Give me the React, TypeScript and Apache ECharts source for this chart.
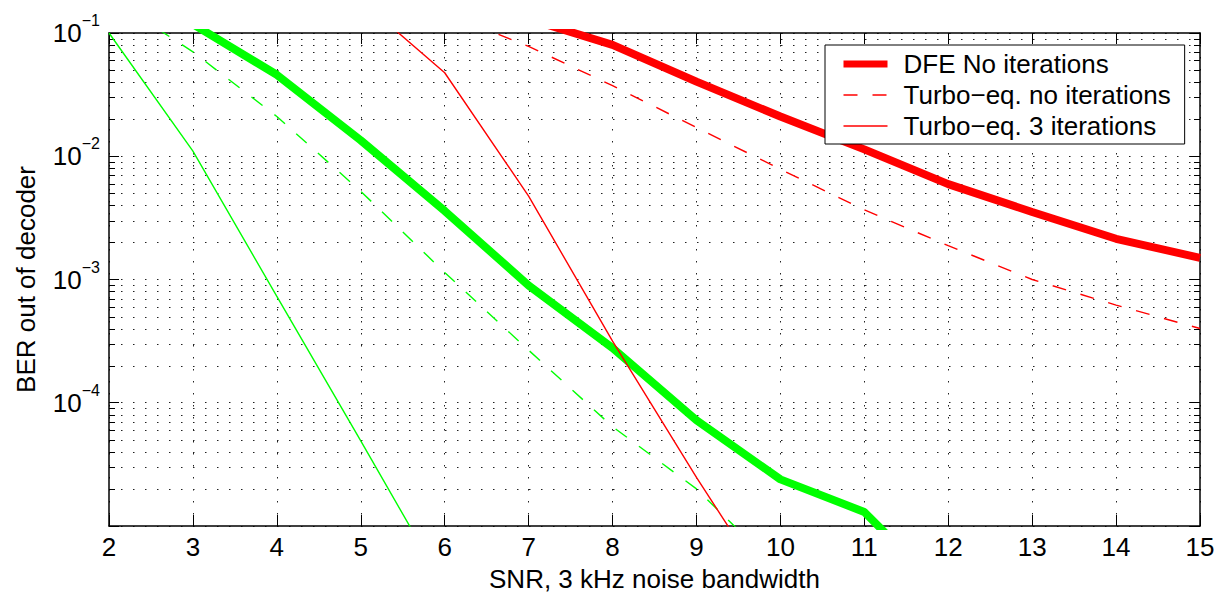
import React, { useEffect, useRef } from "react";
import * as echarts from "echarts";

// ---- data ----
const greenThinSnr = [2, 3, 4, 5, 6];
const greenThinBer = [0.1, 0.011, 7.3e-4, 4.9e-5, 3.2e-6];

const greenDashedSnr = [2, 3, 4, 5, 6, 7, 8, 9, 10];
const greenDashedBer = [0.195, 0.0703, 0.021, 5.2e-3, 1.14e-3, 2.67e-4, 6.4e-5, 2.0e-5, 4.3e-6];

const greenThickSnr = [3, 4, 5, 6, 7, 8, 9, 10, 11, 12];
const greenThickBer = [0.118, 0.0458, 0.01346, 3.6e-3, 8.95e-4, 2.78e-4, 7.2e-5, 2.39e-5, 1.3e-5, 2.7e-6];

const redThinSnr = [5, 6, 7, 8, 9, 10];
const redThinBer = [0.184, 0.0476, 4.75e-3, 3.16e-4, 2.48e-5, 2.2e-6];

const redDashedSnr = [6, 7, 8, 9, 10, 11, 12, 13, 14, 15];
const redDashedBer = [0.146, 0.0778, 0.0374, 0.0171, 7.85e-3, 3.67e-3, 1.88e-3, 1.0e-3, 6.2e-4, 4.0e-4];

const redThickSnr = [7, 8, 9, 10, 11, 12, 13, 14, 15];
const redThickBer = [0.13, 0.08, 0.0403, 0.021, 0.01137, 5.94e-3, 3.53e-3, 2.14e-3, 1.5e-3];

const legendNames = ["DFE No iterations", "Turbo\u2212eq. no iterations", "Turbo\u2212eq. 3 iterations"];

const xMin = 2;
const xMax = 15;
const yMin = 1e-5;
const yMax = 0.1;
const decadeExps = [-5, -4, -3, -2];
const mantissas = [2, 3, 4, 5, 6, 7, 8, 9];

const FONT = "'Liberation Sans', Arial, Helvetica, sans-serif";
const FS = 26;
const THICK = 8;
const THIN = 1.4;

function pairs(xs: number[], ys: number[]) {
  return xs.map((x, i) => [x, ys[i]]);
}

export default function App() {
  const ref = useRef<HTMLDivElement>(null);
  useEffect(() => {
    if (!ref.current) return;
    const chart = echarts.init(ref.current, undefined, { renderer: "svg" });

    const minorVals: number[][] = [];
    decadeExps.forEach((e) => mantissas.forEach((m) => minorVals.push([xMin, Number((m * Math.pow(10, e)).toPrecision(3))])));

    const dotted = { color: "#222", width: 1, type: [1.5, 10.5] as any };
    const green = "#00ff00";
    const red = "#ff0000";

    const option: any = {
      animation: false,
      backgroundColor: "#fff",
      textStyle: { fontFamily: FONT },
      grid: { left: 109, right: 18, top: 33, bottom: 68, containLabel: false },
      legend: {
        data: [
          { name: legendNames[0], lineStyle: { width: 7, color: red } },
          { name: legendNames[1], lineStyle: { width: THIN, color: red, type: [14, 15] } },
          { name: legendNames[2], lineStyle: { width: THIN, color: red } },
        ],
        orient: "vertical",
        left: 825,
        top: 45,
        itemWidth: 44,
        itemHeight: 26,
        itemGap: 5,
        padding: [6, 14, 5, 15],
        borderColor: "#000",
        borderWidth: 1,
        backgroundColor: "#fff",
        itemStyle: { opacity: 0 },
        textStyle: { fontSize: FS, color: "#000", fontFamily: FONT, padding: [0, 0, 0, 11] },
      },
      xAxis: [
        {
          type: "value",
          min: xMin,
          max: xMax,
          interval: 1,
          position: "bottom",
          name: "SNR, 3 kHz noise bandwidth",
          nameLocation: "middle",
          nameGap: 40,
          nameTextStyle: { fontSize: FS, color: "#000", fontFamily: FONT },
          axisLine: { show: true, onZero: false, lineStyle: { color: "#000", width: 1.5 } },
          axisTick: { show: true, inside: true, length: 11, lineStyle: { color: "#000", width: 1 } },
          axisLabel: { fontSize: FS, color: "#000", margin: 8, fontFamily: FONT },
          splitLine: { show: true, lineStyle: dotted },
        },
        {
          type: "value",
          min: xMin,
          max: xMax,
          interval: 1,
          position: "top",
          axisLine: { show: true, onZero: false, lineStyle: { color: "#000", width: 1.5 } },
          axisTick: { show: true, inside: true, length: 11, lineStyle: { color: "#000", width: 1 } },
          axisLabel: { show: false },
          splitLine: { show: false },
        },
      ],
      yAxis: [
        {
          type: "log",
          logBase: 10,
          min: yMin,
          max: yMax,
          position: "left",
          name: "BER out of decoder",
          nameLocation: "middle",
          nameGap: 70,
          nameTextStyle: { fontSize: FS, color: "#000", fontFamily: FONT },
          axisLine: { show: true, onZero: false, lineStyle: { color: "#000", width: 1.5 } },
          axisTick: { show: true, inside: true, length: 10, lineStyle: { color: "#000", width: 1 } },
          axisLabel: {
            margin: 9,
            color: "#000",
            formatter: (v: number) => {
              const e = Math.round(Math.log10(v));
              if (e === -5) return "";
              const s = e < 0 ? "\u2212" + Math.abs(e) : String(e);
              return "{b|10}{s|" + s + "}";
            },
            rich: {
              b: { fontSize: FS, color: "#000", fontFamily: FONT },
              s: { fontSize: 16, color: "#000", fontFamily: FONT, padding: [0, 0, 25, 0] },
            },
          },
          splitLine: { show: true, lineStyle: dotted },
        },
        {
          type: "log",
          logBase: 10,
          min: yMin,
          max: yMax,
          position: "right",
          axisLine: { show: true, onZero: false, lineStyle: { color: "#000", width: 1.5 } },
          axisTick: { show: true, inside: true, length: 10, lineStyle: { color: "#000", width: 1 } },
          axisLabel: { show: false },
          splitLine: { show: false },
        },
      ],
      series: [
        {
          name: "minor",
          type: "custom",
          silent: true,
          z: 1,
          data: minorVals,
          encode: { x: 0, y: 1 },
          renderItem: (params: any, api: any) => {
            const v = api.value(1);
            const pt = api.coord([xMin, v]);
            const cs = params.coordSys;
            const y = Math.round(pt[1]) + 0.5;
            const x0 = cs.x;
            const x1 = cs.x + cs.width;
            return {
              type: "group",
              children: [
                { type: "line", shape: { x1: x0, y1: y, x2: x1, y2: y }, style: { stroke: "#222", lineWidth: 1, lineDash: [1.5, 10.5] } },
                { type: "line", shape: { x1: x0, y1: y, x2: x0 + 6, y2: y }, style: { stroke: "#000", lineWidth: 1 } },
                { type: "line", shape: { x1: x1 - 6, y1: y, x2: x1, y2: y }, style: { stroke: "#000", lineWidth: 1 } },
              ],
            };
          },
        },
        {
          name: "green thin",
          type: "line",
          data: pairs(greenThinSnr, greenThinBer),
          symbol: "none",
          lineStyle: { color: green, width: THIN },
          itemStyle: { color: green },
        },
        {
          name: "green dashed",
          type: "line",
          data: pairs(greenDashedSnr, greenDashedBer),
          symbol: "none",
          lineStyle: { color: green, width: THIN, type: [14, 15] },
          itemStyle: { color: green },
        },
        {
          name: "green thick",
          type: "line",
          data: pairs(greenThickSnr, greenThickBer),
          symbol: "none",
          lineStyle: { color: green, width: THICK },
          itemStyle: { color: green },
        },
        {
          name: legendNames[0],
          type: "line",
          data: pairs(redThickSnr, redThickBer),
          symbol: "none",
          lineStyle: { color: red, width: THICK },
          itemStyle: { color: red },
        },
        {
          name: legendNames[1],
          type: "line",
          data: pairs(redDashedSnr, redDashedBer),
          symbol: "none",
          lineStyle: { color: red, width: THIN, type: [14, 15] },
          itemStyle: { color: red },
        },
        {
          name: legendNames[2],
          type: "line",
          data: pairs(redThinSnr, redThinBer),
          symbol: "none",
          lineStyle: { color: red, width: THIN },
          itemStyle: { color: red },
        },
      ],
    };
    chart.setOption(option);
    return () => chart.dispose();
  }, []);

  return (
    <div
      ref={ref}
      style={{ position: "fixed", left: 0, top: 0, width: 1218, height: 597, background: "#fff" }}
    />
  );
}
